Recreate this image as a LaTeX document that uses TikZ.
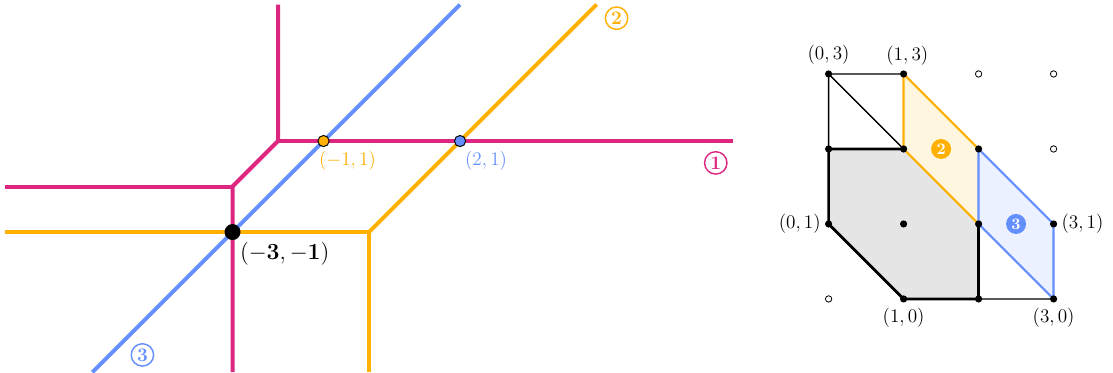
\documentclass[tikz,border=0pt]{standalone}
\usepackage{amsmath}
\usetikzlibrary{positioning}
\definecolor{tmag}{HTML}{DC267F}
\definecolor{tgold}{HTML}{FFB000}
\definecolor{tblue}{HTML}{648FFF}
\tikzset{
  trop/.style={line width=2.5pt},
  meet/.style={circle, draw=black, line width=0.6pt, inner sep=0pt, minimum size=7pt},
  tag/.style={circle, draw, line width=0.9pt, inner sep=0pt, minimum size=14pt, font=\large\bfseries},
  cell/.style={circle, inner sep=0pt, minimum size=12.5pt, text=white, font=\bfseries},
  lattice/.style={circle, fill=black, inner sep=0pt, minimum size=4.5pt},
  hole/.style={circle, draw=black, line width=0.5pt, fill=white, inner sep=0pt, minimum size=4pt},
  thinedge/.style={line width=0.8pt},
  thickedge/.style={line width=1.7pt},
  celledge/.style={line width=1.4pt},
  coord/.style={font=\large},
}
\begin{document}
\begin{tikzpicture}
  \useasboundingbox (-8.11,-4.08) rectangle (16.35,4.10);
  % Panel (a): three tropical curves
  \begin{scope}
    \draw[trop, tblue] (-6.08,-4.08) -- (2,4);
    \draw[trop, tgold] (-8,-1) -- (0,-1) -- (0,-4.08);
    \draw[trop, tgold] (0,-1) -- (5,4);
    \draw[trop, tmag] (-2,4) -- (-2,1) -- (-3,0) -- (-3,-4.08);
    \draw[trop, tmag] (-2,1) -- (8,1);
    \draw[trop, tmag] (-3,0) -- (-8,0);
    \node[meet, fill=tgold] (p1) at (-1,1) {};
    \node[meet, fill=tblue] (p2) at (2,1) {};
    \node[circle, fill=black, inner sep=0pt, minimum size=10pt] (p3) at (-3,-1) {};
    \node[below right=0pt and -9pt of p1, text=tgold, font=\large] (l1) {$(-1,1)$};
    \node[below right=0pt and -3pt of p2, text=tblue, font=\large] (l2) {$(2,1)$};
    \node[below right=-1pt and -2.5pt of p3, font=\Large] (l3) {$(\mathbf{-3},\mathbf{-1})$};
    \node[tag, tmag] (t1) at (7.62,0.52) {1};
    \node[tag, tgold] (t2) at (5.44,3.70) {2};
    \node[tag, tblue] (t3) at (-4.98,-3.70) {3};
  \end{scope}
  % Panel (b): subdivided Newton polygon
  \begin{scope}[shift={(10.10,-2.47)}, scale=1.648]
    \foreach \i in {0,...,3}
      \foreach \j in {0,...,3}
        \coordinate (c\i\j) at (\i,\j);
    \fill[gray!20] (c02) -- (c12) -- (c21) -- (c20) -- (c10) -- (c01) -- cycle;
    \fill[tgold!12] (c13) -- (c22) -- (c21) -- (c12) -- cycle;
    \fill[tblue!12] (c22) -- (c31) -- (c30) -- (c21) -- cycle;
    \draw[thinedge] (c03) -- (c13) (c03) -- (c02) (c03) -- (c12) (c20) -- (c30);
    \draw[thickedge] (c12) -- (c02) -- (c01) -- (c10) -- (c20) -- (c21);
    \draw[celledge, tgold] (c12) -- (c13) -- (c22) (c12) -- (c21);
    \draw[celledge, tblue] (c21) -- (c22) -- (c31) -- (c30) -- cycle;
    \foreach \p in {03,13,02,12,22,01,11,21,31,10,20,30}
      \node[lattice] (v\p) at (c\p) {};
    \foreach \p in {00,23,33,32}
      \node[hole] (v\p) at (c\p) {};
    \node[cell, fill=tgold] (n2) at (1.5,2) {2};
    \node[cell, fill=tblue] (n3) at (2.5,1) {3};
    \node[coord, above=0pt of v03] {$(0,3)$};
    \node[coord, above right=0pt and -16pt of v13] {$(1,3)$};
    \node[coord, left=-1pt of v01] {$(0,1)$};
    \node[coord, right=-1pt of v31] {$(3,1)$};
    \node[coord, below=0pt of v10] {$(1,0)$};
    \node[coord, below=0pt of v30] {$(3,0)$};
  \end{scope}
\end{tikzpicture}
\end{document}
